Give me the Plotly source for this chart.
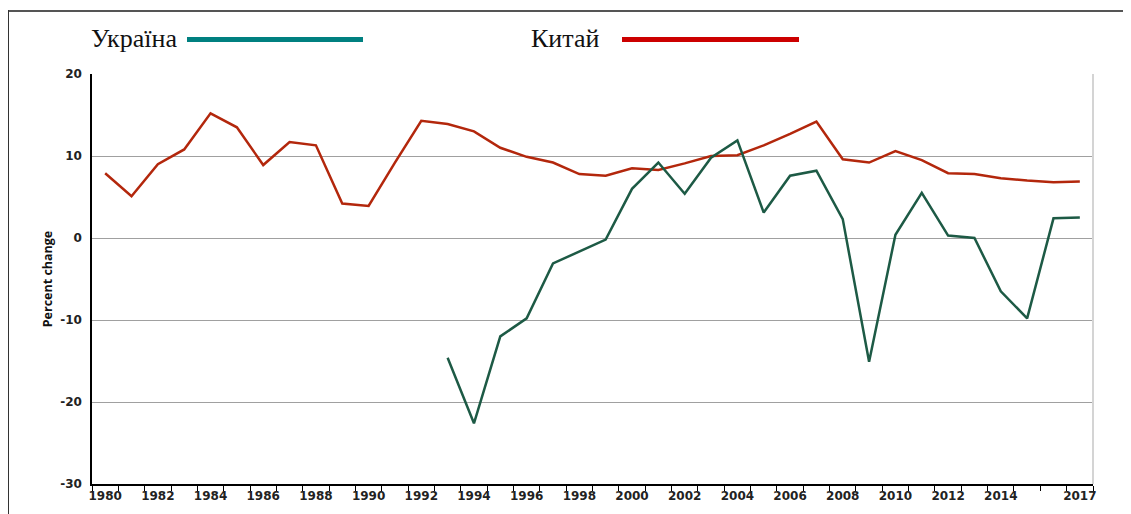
import plotly.graph_objects as go

# ---- data ----
years_china = list(range(1980, 2018))
china = [7.9, 5.1, 9.0, 10.8, 15.2, 13.5, 8.9, 11.7, 11.3, 4.2,
         3.9, 9.2, 14.3, 13.9, 13.0, 11.0, 9.9, 9.2, 7.8, 7.6,
         8.5, 8.3, 9.1, 10.0, 10.1, 11.3, 12.7, 14.2, 9.6, 9.2,
         10.6, 9.5, 7.9, 7.8, 7.3, 7.0, 6.8, 6.9]
years_ukraine = list(range(1993, 2018))
ukraine = [-14.6, -22.6, -12.0, -9.8, -3.1, -1.6, -0.2, 6.0, 9.2, 5.4,
           9.8, 11.9, 3.1, 7.6, 8.2, 2.3, -15.1, 0.4, 5.5, 0.3,
           0.0, -6.5, -9.8, 2.4, 2.5]
xtick_labels = [1980, 1982, 1984, 1986, 1988, 1990, 1992, 1994, 1996, 1998,
                2000, 2002, 2004, 2006, 2008, 2010, 2012, 2014, 2017]
ytick_vals = [-30, -20, -10, 0, 10, 20]
ytick_text = ["-30", "-20", "-10", "0", "10", "20"]
series_names = ["Україна", "Китай"]

OFF = 8  # page body margin
W, H = 1131 - OFF, 514 - OFF
L, R, T, B = 92 - OFF, 1093 - OFF, 74 - OFF, 484 - OFF

def px(x):
    return (x - OFF - L) / (R - L)

def py(y):
    return (B - (y - OFF)) / (B - T)

fig = go.Figure()
fig.add_trace(go.Scatter(x=years_china, y=china, mode="lines", name=series_names[1],
                         line=dict(color="#b3270c", width=2.5), showlegend=False))
fig.add_trace(go.Scatter(x=years_ukraine, y=ukraine, mode="lines", name=series_names[0],
                         line=dict(color="#1d5a45", width=2.5), showlegend=False))

tickfont = dict(family="DejaVu Sans", size=12, color="#222222", weight="bold")

fig.update_layout(
    width=W, height=H,
    margin=dict(l=L, r=W - R, t=T, b=H - B, autoexpand=False),
    paper_bgcolor="white", plot_bgcolor="white",
    xaxis=dict(range=[1979.5, 2017.5], tickmode="array", tickvals=xtick_labels,
               ticktext=[str(v) for v in xtick_labels], ticks="",
               showgrid=False, zeroline=False, showline=True, linecolor="black",
               linewidth=1.5, tickfont=tickfont,
               minor=dict(tickmode="array",
                          tickvals=[y + 0.5 for y in range(1979, 2018)],
                          ticks="outside", ticklen=5, tickwidth=1.2,
                          tickcolor="black", showgrid=False)),
    yaxis=dict(range=[-30, 20], tickmode="array", tickvals=ytick_vals,
               ticktext=ytick_text, ticks="",
               showgrid=True, gridcolor="#a0a0a0", gridwidth=1.4, zeroline=False,
               showline=True, linecolor="black", linewidth=1.5, tickfont=tickfont,
               ticklabelstandoff=6,
               title=dict(text="Percent change", standoff=5,
                          font=dict(family="Open Sans", size=12.5, color="#111",
                                    weight="bold"))),
)

shapes = []
# right border of plot area
shapes.append(dict(type="line", xref="paper", yref="paper", x0=1, x1=1, y0=0, y1=1,
                   line=dict(color="#d4d4d4", width=2)))
# outer frame (top & left)
shapes.append(dict(type="line", xref="paper", yref="paper", x0=px(7), x1=px(1131),
                   y0=py(11), y1=py(11), line=dict(color="#555555", width=2)))
shapes.append(dict(type="line", xref="paper", yref="paper", x0=px(8), x1=px(8),
                   y0=py(10), y1=py(514), line=dict(color="#333333", width=2)))
# legend lines
shapes.append(dict(type="line", xref="paper", yref="paper", x0=px(187), x1=px(363),
                   y0=py(39.5), y1=py(39.5), line=dict(color="#008080", width=5)))
shapes.append(dict(type="line", xref="paper", yref="paper", x0=px(622), x1=px(799),
                   y0=py(39.5), y1=py(39.5), line=dict(color="#cc0000", width=5)))
fig.update_layout(shapes=shapes)

legfont = dict(family="Liberation Serif", size=26, color="#111")
fig.add_annotation(x=px(89), y=py(39), xref="paper", yref="paper", text=series_names[0],
                   showarrow=False, xanchor="left", yanchor="middle", font=legfont)
fig.add_annotation(x=px(529), y=py(39), xref="paper", yref="paper", text=series_names[1],
                   showarrow=False, xanchor="left", yanchor="middle", font=legfont)

fig.write_html("out.html")
